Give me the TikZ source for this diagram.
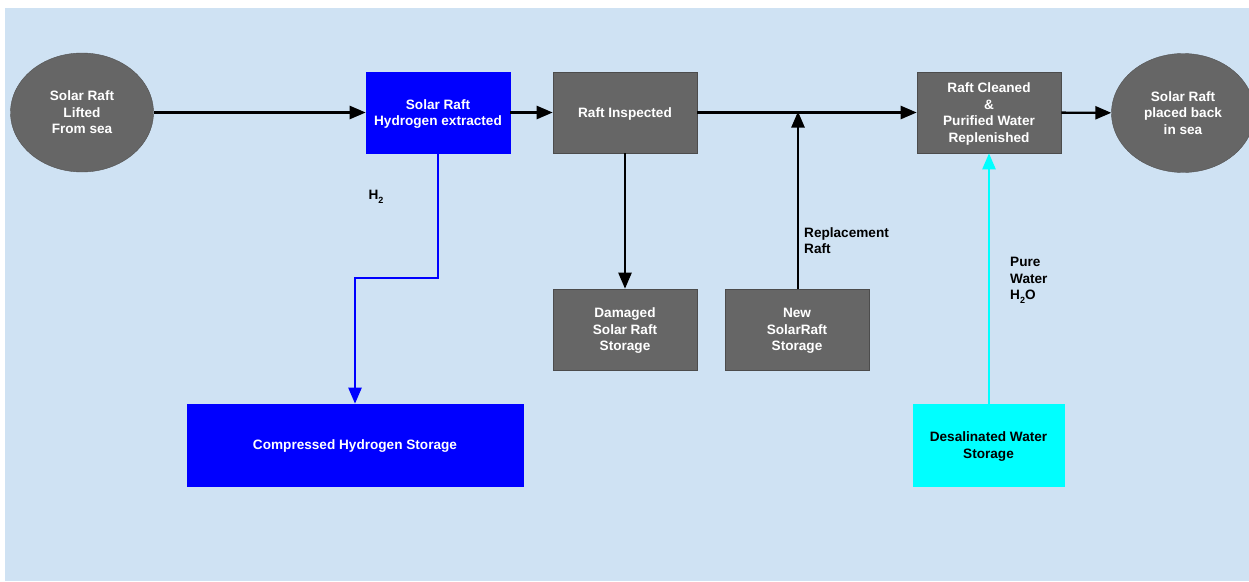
\documentclass[tikz,border=0pt]{standalone}
\usepackage{fontspec}
\setmainfont{Liberation Sans}
\usetikzlibrary{arrows.meta,shapes.geometric}
\definecolor{bgblue}{HTML}{CFE2F3}
\definecolor{boxgray}{HTML}{666666}
\definecolor{hblue}{HTML}{0000FF}
\definecolor{wcyan}{HTML}{00FFFF}
\newcommand{\lowsub}[1]{\raisebox{-4pt}{\fontsize{9}{9}\selectfont #1}}
\begin{document}
\begin{tikzpicture}[x=1pt,y=-1pt,
  txt/.style={font=\bfseries\fontsize{13.6}{16.5}\selectfont, align=center},
  graybox/.style={txt, draw=black!70, line width=0.6pt, fill=boxgray, text=white, minimum width=144pt, minimum height=81pt, inner sep=0pt, text depth=0pt},
  grayell/.style={txt, ellipse, fill=boxgray, draw=boxgray!80!black, line width=0.4pt, text=white, minimum width=143pt, minimum height=119pt, inner sep=0pt, text depth=0pt},
  conn/.style={line width=2.4pt, -{Triangle[length=16pt,width=13pt]}},
  lbl/.style={txt, align=left, text=black}
]
\useasboundingbox (0,0) rectangle (1249,581);
\fill[white] (0,0) rectangle (1249,581);
\fill[bgblue] (5,8) rectangle (1249,581);

\node[grayell] (lift) at (82,112.5) {Solar Raft\\Lifted\\From sea};
\node[graybox, fill=hblue, draw=hblue] (hyd) at (438,112.5) {Solar Raft\\Hydrogen extracted};
\node[graybox] (insp) at (625,112.5) {Raft Inspected};
\node[graybox] (clean) at (989,112.5) {Raft Cleaned\\\&\\Purified Water\\Replenished};
\node[grayell] (back) at (1183,113) {Solar Raft\\placed back\\in sea};
\node[graybox] (dmg) at (625,329.5) {Damaged\\Solar Raft\\Storage};
\node[graybox] (new) at (797,329.5) {New\\SolarRaft\\Storage};
\node[graybox, fill=hblue, draw=hblue, minimum width=336pt, minimum height=82pt] (comp) at (355,445) {Compressed Hydrogen Storage};
\node[graybox, fill=wcyan, draw=wcyan, text=black, minimum width=151pt, minimum height=82pt] (desal) at (988.5,445) {Desalinated Water\\Storage};

\coordinate (hbend1) at (438,278);
\coordinate (hbend2) at (355,278);
\coordinate (join) at (798,112.5);

\draw[conn] (lift) -- (hyd);
\draw[conn] (hyd) -- (insp);
\draw[conn] (insp) -- (clean);
\draw[conn] (clean) -- (back);
\draw[conn] (insp) -- (dmg);
\draw[conn, shorten >=-1pt] (new.north -| join) -- (join);
\draw[conn, hblue] (hyd.south) -- (hbend1) -- (hbend2) -- (comp.north -| hbend2);
\draw[conn, wcyan] (desal.north -| clean) -- (clean.south);

\node[lbl, anchor=west] (h2) at (365,197) {H\lowsub{2}};
\node[lbl, anchor=north west, inner sep=0pt] (repl) at (804,227) {Replacement\\Raft};
\node[lbl, anchor=north west, inner sep=0pt] (pure) at (1010,257) {Pure\\Water\\H\lowsub{2}O};
\end{tikzpicture}
\end{document}
